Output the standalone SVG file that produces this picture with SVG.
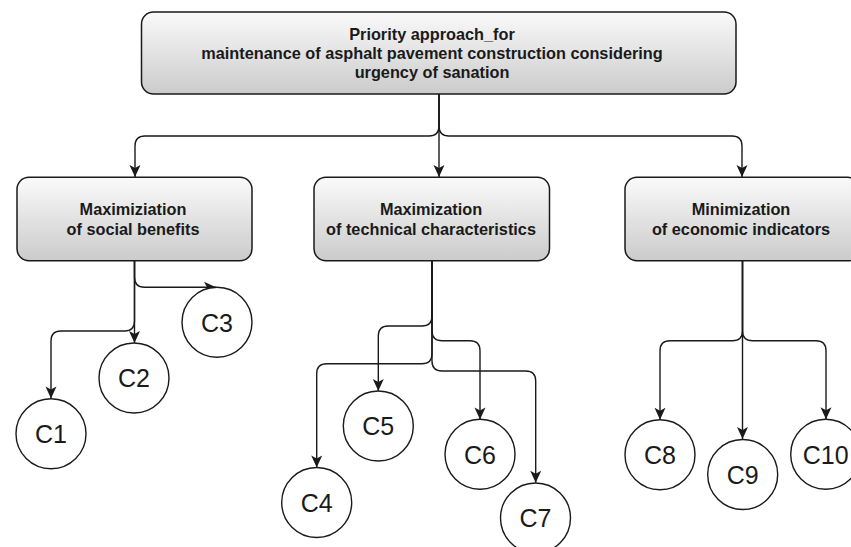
<svg xmlns="http://www.w3.org/2000/svg" width="851" height="547" viewBox="0 0 851 547">
<style>
.box{stroke:#1a1a1a;stroke-width:1.5;fill:url(#g)}
.lbl{font-family:"Liberation Sans",Arial,sans-serif;font-weight:bold;font-size:16.3px;fill:#1a1a1a;text-anchor:middle}
.circ{stroke:#1a1a1a;stroke-width:1.4;fill:#fff}
.ct{font-family:"Liberation Sans",Arial,sans-serif;font-size:25px;fill:#1a1a1a;text-anchor:middle}
.edge{fill:none;stroke:#1a1a1a;stroke-width:1.4;marker-end:url(#arr)}
</style>
<defs>
<linearGradient id="g" x1="0" y1="0" x2="0" y2="1">
<stop offset="0" stop-color="#fafafa"/>
<stop offset="1" stop-color="#cbcbcb"/>
</linearGradient>
<marker id="arr" markerUnits="userSpaceOnUse" viewBox="-13 -7 14 14" markerWidth="14" markerHeight="14" refX="0" refY="0" orient="auto">
<path d="M0,0 L-12,-5.5 L-9,0 L-12,5.5 Z" fill="#1a1a1a"/>
</marker>
</defs>
<rect width="851" height="547" fill="#fff"/>
<g id="connectors">
<path class="edge" d="M439,94 V126 Q439,136 429,136 H145 Q135,136 135,146 V177"/>
<path class="edge" d="M439,94 V177"/>
<path class="edge" d="M439,94 V126 Q439,136 449,136 H732 Q742,136 742,146 V177"/>
<path class="edge" d="M134.5,261 V277 Q134.5,287.3 144.5,287.3 H216"/>
<path class="edge" d="M134.5,261 V343"/>
<path class="edge" d="M134.5,261 V321 Q134.5,331 124.5,331 H61 Q51,331 51,341 V398.5"/>
<path class="edge" d="M432,261 V316 Q432,326 422,326 H388.3 Q378.3,326 378.3,336 V391"/>
<path class="edge" d="M432,261 V330.7 Q432,340.7 442,340.7 H470 Q480,340.7 480,350.7 V419.5"/>
<path class="edge" d="M432,261 V353.7 Q432,363.7 422,363.7 H326.7 Q316.7,363.7 316.7,373.7 V467.5"/>
<path class="edge" d="M432,261 V361 Q432,371 442,371 H525.7 Q535.7,371 535.7,381 V482.7"/>
<path class="edge" d="M742.5,261 V330.7 Q742.5,340.7 732.5,340.7 H670 Q660,340.7 660,350.7 V419.7"/>
<path class="edge" d="M742.5,261 V439"/>
<path class="edge" d="M742.5,261 V330.7 Q742.5,340.7 752.5,340.7 H816 Q826,340.7 826,350.7 V419.2"/>
</g>
<g id="root">
<rect class="box" x="141.5" y="12" width="594.5" height="82" rx="12"/>
<text class="lbl" x="432" y="39.7">Priority approach_for</text>
<text class="lbl" x="432" y="58.7">maintenance of asphalt pavement construction considering</text>
<text class="lbl" x="432" y="77.7">urgency of sanation</text>
</g>
<g id="social">
<rect class="box" x="17" y="177.3" width="235" height="83.5" rx="12"/>
<text class="lbl" x="133" y="215.4">Maximiziation</text>
<text class="lbl" x="133" y="234.6">of social benefits</text>
</g>
<g id="technical">
<rect class="box" x="314" y="177.3" width="235.5" height="83.5" rx="12"/>
<text class="lbl" x="431" y="215.4">Maximization</text>
<text class="lbl" x="431" y="234.6">of technical characteristics</text>
</g>
<g id="economic">
<rect class="box" x="625" y="177.3" width="235" height="83.5" rx="12"/>
<text class="lbl" x="741" y="215.4">Minimization</text>
<text class="lbl" x="741" y="234.6">of economic indicators</text>
</g>
<g id="C1"><circle class="circ" cx="51" cy="433.7" r="35"/><text class="ct" x="51" y="443">C1</text></g>
<g id="C2"><circle class="circ" cx="134" cy="378" r="35"/><text class="ct" x="134" y="387.3">C2</text></g>
<g id="C3"><circle class="circ" cx="217" cy="322.3" r="35"/><text class="ct" x="217" y="331.6">C3</text></g>
<g id="C4"><circle class="circ" cx="316.7" cy="502.5" r="35"/><text class="ct" x="316.7" y="511.8">C4</text></g>
<g id="C5"><circle class="circ" cx="378.3" cy="426" r="35"/><text class="ct" x="378.3" y="435.3">C5</text></g>
<g id="C6"><circle class="circ" cx="480" cy="454.3" r="35"/><text class="ct" x="480" y="463.6">C6</text></g>
<g id="C7"><circle class="circ" cx="535.5" cy="518" r="35"/><text class="ct" x="535.5" y="527.3">C7</text></g>
<g id="C8"><circle class="circ" cx="660" cy="454.7" r="35"/><text class="ct" x="660" y="464">C8</text></g>
<g id="C9"><circle class="circ" cx="742.7" cy="474.5" r="35"/><text class="ct" x="742.7" y="483.8">C9</text></g>
<g id="C10"><circle class="circ" cx="825.7" cy="454.3" r="35"/><text class="ct" x="825.7" y="463.6">C10</text></g>
</svg>
